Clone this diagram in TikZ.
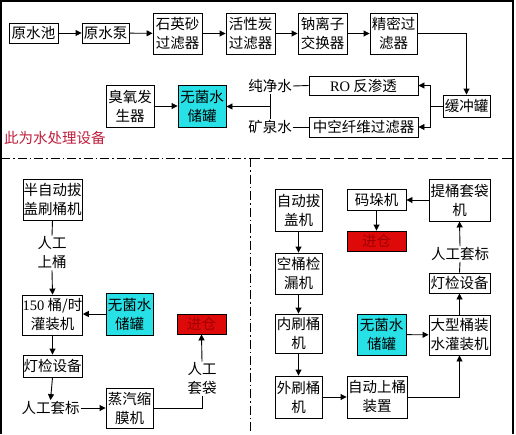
\documentclass[tikz,border=0pt]{standalone}
\usepackage{fontspec}
\setmainfont{Liberation Serif}
\newfontfamily\cjk{Noto Sans CJK SC}
\usetikzlibrary{arrows.meta}
\definecolor{aqua}{RGB}{40,225,230}
\definecolor{boxred}{RGB}{222,10,10}
\definecolor{txtred}{RGB}{160,0,0}
\definecolor{labred}{RGB}{190,30,60}
\tikzset{
  box/.style={draw, line width=0.9pt, align=center, inner sep=0pt,
    font=\cjk\fontsize{14.5}{19}\selectfont},
  tank/.style={box, fill=aqua},
  storebox/.style={box, fill=boxred, text=txtred},
  lab/.style={align=center, inner sep=1pt, font=\cjk\fontsize{14.5}{19}\selectfont},
  conn/.style={line width=0.9pt},
  arr/.style={conn, -{Triangle[length=6pt,width=6pt]}},
  dashdot/.style={line width=1pt, dash pattern=on 9pt off 3pt on 1.5pt off 3pt},
  dashline/.style={line width=1pt, dash pattern=on 10pt off 4pt}
}
\newcommand{\bx}[6]{\node[#1, minimum width=#4, minimum height=#5] (#2) at (#3) {#6};}
\begin{document}
\begin{tikzpicture}[x=1pt,y=-1pt]
\useasboundingbox (0,0) rectangle (516,434);
% frame
\draw[line width=1.3pt] (1,434) -- (1,1) -- (513,1) -- (513,434);
\draw[dashdot] (1,158) -- (250,158);
\draw[dashline] (250,158) -- (513,158);
\draw[dashdot] (250,158) -- (250,434);

% top: water treatment
\bx{box}{yc}{33.5,33}{49pt}{20pt}{原水池}
\bx{box}{yb}{105.5,33}{47pt}{20pt}{原水泵}
\bx{box}{sy}{177.5,33.5}{49pt}{41pt}{石英砂\\过滤器}
\bx{box}{hx}{250.5,33.5}{49pt}{41pt}{活性炭\\过滤器}
\bx{box}{nl}{322.5,33.5}{49pt}{41pt}{钠离子\\交换器}
\bx{box}{jm}{393.5,33.5}{47pt}{41pt}{精密过\\滤器}
\bx{box}{hc}{466.5,106}{47pt}{22pt}{缓冲罐}
\bx{box}{ro}{363.5,85.5}{109pt}{19pt}{{\rmfamily RO} 反渗透}
\bx{box}{zk}{363.5,127}{109pt}{20pt}{中空纤维过滤器}
\bx{tank}{wj1}{202,106}{48pt}{42pt}{无菌水\\储罐}
\bx{box}{cy}{130,106}{48pt}{42pt}{臭氧发\\生器}
\node[lab] (cjs) at (270,86) {纯净水};
\node[lab] (kqs) at (270,127) {矿泉水};
\node[lab, text=labred, anchor=west, inner sep=0pt] (note) at (4,138) {此为水处理设备};

\draw[arr] (yc) -- (yb);
\draw[arr] (yb) -- (sy);
\draw[arr] (sy) -- (hx);
\draw[arr] (hx) -- (nl);
\draw[arr] (nl) -- (jm);
\draw[arr] (jm.east) -| (hc.north);
\coordinate (sp) at (430,106);
\draw[conn] (hc.west) -- (sp);
\draw[arr] (sp) |- (ro.east);
\draw[arr] (sp) |- (zk.east);
\draw[conn] (cjs.east) -- (ro.west);
\draw[conn] (kqs.east) -- (zk.west);
\draw[conn] (cjs.south) -- coordinate[pos=0.5] (mid) (kqs.north);
\draw[arr] (mid) -- (mid -| wj1.east);
\draw[arr] (cy) -- (wj1);

% bottom left
\bx{box}{bz}{52.5,199.5}{59pt}{41pt}{半自动拔\\盖刷桶机}
\node[lab] (rg1) at (52,253) {人工\\上桶};
\bx{box}{gz}{52.5,315}{59pt}{40pt}{{\rmfamily 150} 桶/时\\灌装机}
\bx{tank}{wj2}{129.5,314}{47pt}{42pt}{无菌水\\储罐}
\bx{box}{dj1}{52.5,366}{59pt}{22pt}{灯检设备}
\node[lab] (rt1) at (50.5,408) {人工套标};
\bx{box}{zq}{129.5,408}{47pt}{40pt}{蒸汽缩\\膜机}
\node[lab] (rd) at (202,379) {人工\\套袋};
\bx{storebox}{jc1}{201.5,324}{49pt}{20pt}{进仓}

\draw[conn] (bz.south) -- (rg1.north);
\draw[arr] (rg1.south) -- (gz.north);
\draw[arr] (wj2.west) -- (wj2.west -| gz.east);
\draw[arr] (gz) -- (dj1);
\draw[arr] (dj1.south) -- (rt1.north);
\draw[arr] (rt1.east) -- (zq.west);
\draw[conn] (zq.east) -| (rd.south);
\draw[arr] (rd.north) -- (jc1.south);

% bottom right
\bx{box}{zd}{298.5,210}{47pt}{42pt}{自动拔\\盖机}
\bx{box}{kt}{298.5,273.5}{47pt}{41pt}{空桶检\\漏机}
\bx{box}{ns}{298.5,333.5}{47pt}{39pt}{内刷桶\\机}
\bx{box}{ws}{298.5,397}{47pt}{42pt}{外刷桶\\机}
\bx{box}{zs}{377,397}{60pt}{42pt}{自动上桶\\装置}
\bx{box}{dx}{459.5,335}{61pt}{40pt}{大型桶装\\水灌装机}
\bx{tank}{wj3}{381.5,334.5}{49pt}{41pt}{无菌水\\储罐}
\bx{box}{dj2}{459.5,283}{61pt}{20pt}{灯检设备}
\node[lab] (rt2) at (460,254) {人工套标};
\bx{box}{tt}{459.5,200}{61pt}{42pt}{提桶套袋\\机}
\bx{box}{md}{376.5,199.5}{59pt}{21pt}{码垛机}
\bx{storebox}{jc2}{376.5,241}{59pt}{20pt}{进仓}

\draw[arr] (zd) -- (kt);
\draw[arr] (kt) -- (ns);
\draw[arr] (ns) -- (ws);
\draw[arr] (ws) -- (zs);
\draw[arr] (zs.east) -| (dx.south);
\draw[arr] (wj3) -- (dx);
\draw[arr] (dx) -- (dj2);
\draw[conn] (dj2.north) -- (rt2.south);
\draw[arr] (rt2.north) -- (tt.south);
\draw[arr] (tt.west) -- (tt.west -| md.east);
\draw[arr] (md) -- (jc2);
\end{tikzpicture}
\end{document}
